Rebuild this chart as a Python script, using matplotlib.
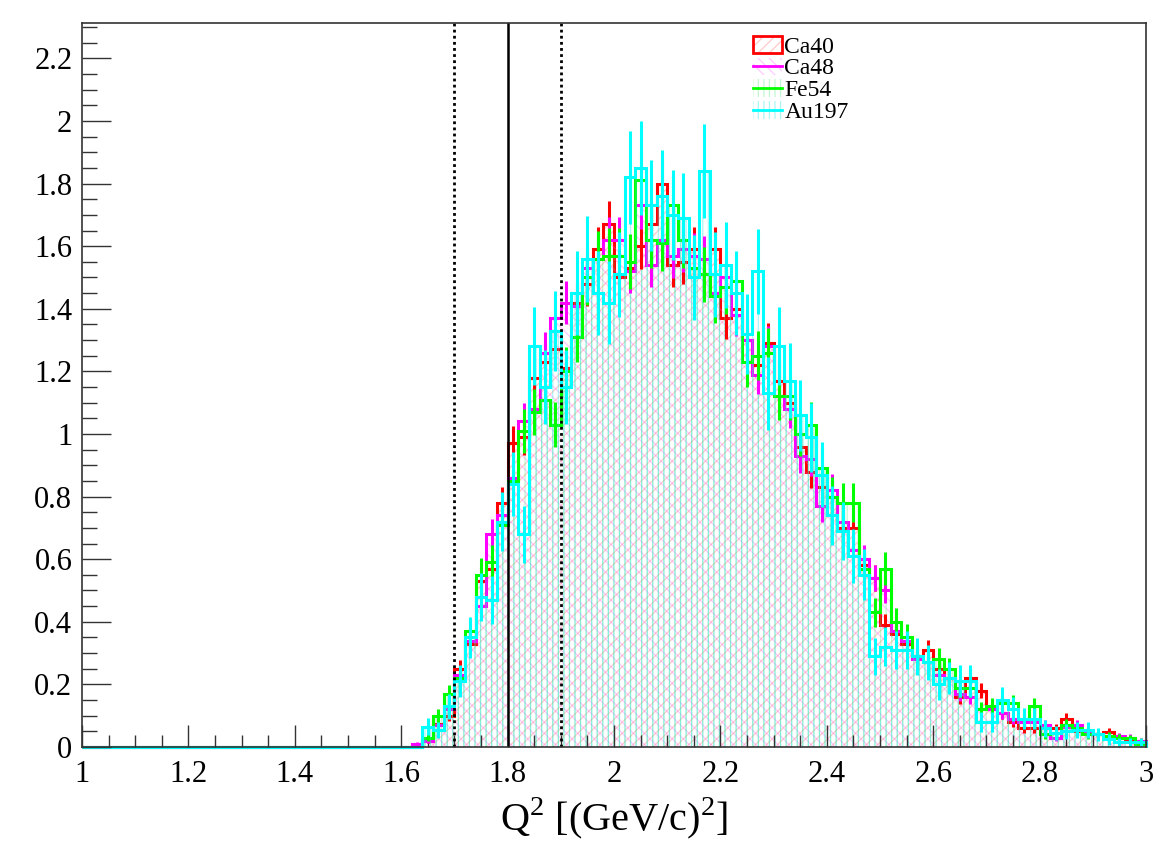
import numpy as np
import matplotlib
matplotlib.use("Agg")
import matplotlib.pyplot as plt
from matplotlib.patches import Patch
from matplotlib.lines import Line2D
from matplotlib.ticker import MultipleLocator, FuncFormatter

plt.rcParams['font.family'] = ['Liberation Serif', 'DejaVu Serif']
plt.rcParams['mathtext.fontset'] = 'custom'
plt.rcParams['mathtext.rm'] = 'Liberation Serif'
plt.rcParams['hatch.linewidth'] = 0.9

# Q^2 binning: 100 bins of 0.02 from 1 to 3, data non-zero from 1.62 on
q2_min, q2_max, bin_w = 1.0, 3.0, 0.02
first_bin = 1.62

# normalised bin contents, bins 1.62 ... 2.98
ca40 = [0.00, 0.02, 0.075, 0.10, 0.25, 0.33, 0.53, 0.57, 0.78, 0.97,
        0.99, 1.18, 1.23, 1.27, 1.21, 1.42, 1.48, 1.59, 1.67, 1.50,
        1.53, 1.60, 1.67, 1.80, 1.54, 1.55, 1.59, 1.51, 1.59, 1.37,
        1.40, 1.30, 1.22, 1.29, 1.17, 1.10, 0.96, 0.88, 0.83, 0.80,
        0.70, 0.70, 0.58, 0.54, 0.39, 0.36, 0.33, 0.29, 0.31, 0.25,
        0.22, 0.16, 0.22, 0.18, 0.12, 0.11, 0.08, 0.06, 0.06, 0.06,
        0.06, 0.09, 0.05, 0.05, 0.04, 0.048, 0.03, 0.025, 0.02]
ca48 = [0.01, 0.02, 0.07, 0.12, 0.23, 0.34, 0.45, 0.68, 0.74, 0.86,
        1.04, 1.08, 1.26, 1.37, 1.42, 1.41, 1.53, 1.56, 1.62, 1.62,
        1.52, 1.73, 1.54, 1.62, 1.57, 1.59, 1.57, 1.56, 1.45, 1.50,
        1.38, 1.30, 1.19, 1.28, 1.12, 1.08, 0.93, 0.92, 0.77, 0.82,
        0.72, 0.63, 0.60, 0.54, 0.50, 0.37, 0.34, 0.28, 0.27, 0.23,
        0.22, 0.17, 0.16, 0.12, 0.12, 0.11, 0.09, 0.08, 0.08, 0.07,
        0.03, 0.065, 0.07, 0.045, 0.04, 0.03, 0.035, 0.03, 0.018]
fe54 = [0.00, 0.03, 0.10, 0.17, 0.22, 0.37, 0.55, 0.59, 0.71, 0.85,
        1.01, 1.07, 1.11, 1.03, 1.20, 1.31, 1.50, 1.56, 1.57, 1.57,
        1.55, 1.81, 1.62, 1.61, 1.73, 1.62, 1.53, 1.51, 1.44, 1.47,
        1.49, 1.23, 1.25, 1.26, 1.12, 1.12, 1.00, 1.03, 0.89, 0.80,
        0.78, 0.78, 0.57, 0.43, 0.57, 0.40, 0.35, 0.29, 0.27, 0.28,
        0.25, 0.19, 0.19, 0.12, 0.13, 0.14, 0.14, 0.09, 0.13, 0.04,
        0.045, 0.07, 0.06, 0.04, 0.04, 0.035, 0.03, 0.028, 0.01]
au197 = [0.00, 0.065, 0.055, 0.13, 0.21, 0.35, 0.48, 0.47, 0.72, 0.84,
         0.68, 1.28, 1.15, 1.33, 1.15, 1.45, 1.56, 1.45, 1.42, 1.51,
         1.82, 1.85, 1.73, 1.76, 1.70, 1.69, 1.50, 1.84, 1.51, 1.54,
         1.45, 1.32, 1.52, 1.13, 1.28, 1.17, 1.06, 0.99, 0.87, 0.74,
         0.69, 0.61, 0.55, 0.29, 0.32, 0.31, 0.31, 0.29, 0.27, 0.20,
         0.22, 0.21, 0.21, 0.08, 0.08, 0.15, 0.12, 0.09, 0.09, 0.06,
         0.045, 0.05, 0.055, 0.055, 0.04, 0.025, 0.015, 0.015, 0.015]

labels = ['Ca40', 'Ca48', 'Fe54', 'Au197']
series = [ca40, ca48, fe54, au197]
# effective entries per unit of normalised content (sets sqrt(N) error size)
eff_counts = [300, 300, 200, 82]

colors = ['#ff0000', '#ff00ff', '#00ff00', '#00ffff']
hatch_cols = [(1, 0.3, 0.3, 0.3), (1, 0.3, 1, 0.3), (0.2, 0.9, 0.4, 0.3), (0.2, 0.9, 0.9, 0.4)]
hatches = ['///', '\\\\\\', '|||', '|||']

edges = np.round(np.arange(q2_min, q2_max + bin_w / 2, bin_w), 2)
centers = 0.5 * (edges[:-1] + edges[1:])
n_empty = int(round((first_bin - q2_min) / bin_w))

fig = plt.figure(figsize=(11.68, 8.48), dpi=100)
ax = fig.add_axes([0.0702, 0.1191, 0.9110, 0.8538])

for vals, col, hcol, hat, neff in zip(series, colors, hatch_cols, hatches, eff_counts):
    full = np.concatenate([np.zeros(n_empty), np.array(vals)])
    err = np.sqrt(full / neff)
    ax.stairs(full, edges, fill=True, facecolor='none', edgecolor=hcol,
              hatch=hat, linewidth=0)
    ax.stairs(full, edges, color=col, lw=2.2, clip_on=False)
    m = full > 0
    ax.errorbar(centers[m], full[m], yerr=err[m], fmt='none', ecolor=col,
                elinewidth=2.2, capsize=0)

# Q^2 cut lines
ax.axvline(1.7, color='k', lw=2, ls=(0, (1, 1.2)))
ax.axvline(1.8, color='k', lw=1.8)
ax.axvline(1.9, color='k', lw=2, ls=(0, (1, 1.2)))

ax.set_xlim(q2_min, q2_max)
ax.set_ylim(0, 2.313)
ax.xaxis.set_major_locator(MultipleLocator(0.2))
ax.xaxis.set_minor_locator(MultipleLocator(0.05))
ax.yaxis.set_major_locator(MultipleLocator(0.2))
ax.yaxis.set_minor_locator(MultipleLocator(0.05))
fmt = FuncFormatter(lambda v, p: '%g' % round(v, 2))
ax.xaxis.set_major_formatter(fmt)
ax.yaxis.set_major_formatter(fmt)

ax.tick_params(which='both', direction='in', top=False, right=False,
               labelsize=22, width=1.0, color='#333333')
ax.tick_params(axis='x', which='major', length=16, pad=9)
ax.tick_params(axis='x', which='minor', length=8.5)
ax.tick_params(axis='y', which='major', length=21, pad=7)
ax.tick_params(axis='y', which='minor', length=10.5)
for s in ax.spines.values():
    s.set_linewidth(1.2)
    s.set_color('#333333')

ax.set_xlabel(r'Q$^{2}$ [(GeV/c)$^{2}$]', fontsize=29, labelpad=5)

# legend in ROOT style
handles = []
for i, (col, hcol, hat) in enumerate(zip(colors, hatch_cols, hatches)):
    bg = Patch(facecolor='none', edgecolor=hcol, hatch=hat, linewidth=0)
    if i == 0:
        handles.append((bg, Patch(facecolor='none', edgecolor=col, lw=2)))
    else:
        handles.append((bg, Line2D([], [], color=col, lw=2)))
ax.legend(handles, labels, loc='upper left', bbox_to_anchor=(0.6176, 1.002),
          frameon=False, fontsize=17, handlelength=1.2, handleheight=0.75,
          handletextpad=0.12, labelspacing=0.0, borderpad=0.1)

fig.savefig('out.png', dpi=100)
